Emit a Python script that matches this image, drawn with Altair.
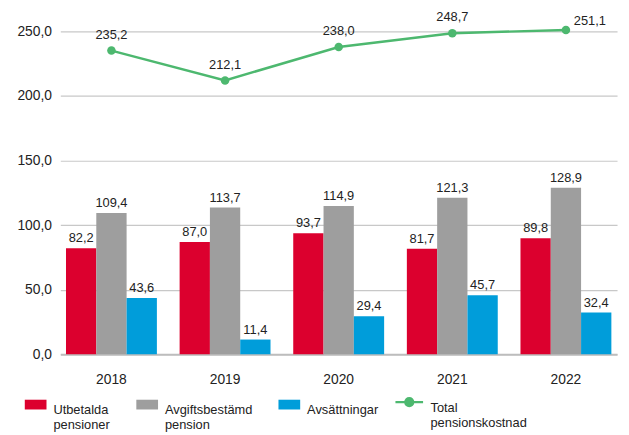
import altair as alt
import pandas as pd

years = ["2018", "2019", "2020", "2021", "2022"]
utbetalda = [82.2, 87.0, 93.7, 81.7, 89.8]
avgiftsbestamd = [109.4, 113.7, 114.9, 121.3, 128.9]
avsattningar = [43.6, 11.4, 29.4, 45.7, 32.4]
total = [235.2, 212.1, 238.0, 248.7, 251.1]

series_names = ["Utbetalda pensioner", "Avgiftsbestämd pension", "Avsättningar"]
series_colors = ["#DC002E", "#9E9E9E", "#009DDA"]
line_name = "Total pensionskostnad"
line_color = "#4DB86F"

rows = []
for name, vals in zip(series_names, [utbetalda, avgiftsbestamd, avsattningar]):
    for y, v in zip(years, vals):
        rows.append({"year": y, "series": name, "value": v})
bars_df = pd.DataFrame(rows)
line_df = pd.DataFrame({"year": years, "value": total, "series": [line_name] * len(years)})

FONT = "Liberation Sans"
fmt = "replace(format(datum.value, '.1f'), '.', ',')"
two_lines = "indexof(datum.label, ' ') > 0 ? split(datum.label, ' ') : [datum.label, ' ']"

x = alt.X("year:N", title=None,
          scale=alt.Scale(paddingInner=0.2, paddingOuter=0.05),
          axis=alt.Axis(labelAngle=0, labelFontSize=14, labelPadding=19, ticks=False,
                        domainColor="#BDBDBD", domainWidth=2, labelColor="#222222"))
y = alt.Y("value:Q", title=None,
          scale=alt.Scale(domain=[0, 250], nice=False),
          axis=alt.Axis(values=[0, 50, 100, 150, 200, 250], labelExpr=fmt, labelFontSize=14,
                        labelPadding=9, ticks=False, domain=False, gridColor="#C8C8C8",
                        gridWidth=1.2, labelColor="#222222"))

bars = alt.Chart(bars_df).mark_bar().encode(
    x=x,
    y=y,
    xOffset=alt.XOffset("series:N", sort=series_names),
    fill=alt.Fill("series:N", sort=series_names,
                  scale=alt.Scale(domain=series_names, range=series_colors),
                  legend=alt.Legend(title=None, orient="none", legendX=-36, legendY=367,
                                    direction="horizontal", columns=3, columnPadding=26,
                                    symbolType="M-1,-0.45H1V0.45H-1Z", symbolSize=484,
                                    symbolStrokeWidth=0, labelFontSize=13, labelOffset=7,
                                    labelLimit=200, labelBaseline="top",
                                    labelExpr=two_lines,
                                    labelColor="#222222")),
)

bar_text = alt.Chart(bars_df).mark_text(baseline="bottom", dy=-3, fontSize=13, font=FONT,
                                         color="#222222").encode(
    x=alt.X("year:N"),
    y=alt.Y("value:Q"),
    xOffset=alt.XOffset("series:N", sort=series_names),
    text=alt.Text("label:N"),
).transform_calculate(label=fmt)

line = alt.Chart(line_df).mark_line(strokeWidth=2.5).encode(
    x=alt.X("year:N"),
    y=alt.Y("value:Q"),
    stroke=alt.Stroke("series:N", scale=alt.Scale(domain=[line_name], range=[line_color]),
                      legend=alt.Legend(title=None, orient="none", legendX=338, legendY=360,
                                        symbolType="M-1,0H-0.28A0.28,0.28 0 1,1 0.28,0A0.28,0.28 0 1,1 -0.28,0M0.28,0H1",
                                        symbolSize=784, symbolStrokeWidth=2.5,
                                        symbolFillColor=line_color, labelFontSize=13,
                                        labelOffset=6, labelLimit=200, labelBaseline="top",
                                        labelExpr=two_lines,
                                        labelColor="#222222")),
)

points = alt.Chart(line_df).mark_point(filled=True, size=75, opacity=1, color=line_color).encode(
    x=alt.X("year:N"),
    y=alt.Y("value:Q"),
)

line_text = alt.Chart(line_df).mark_text(baseline="bottom", dy=-9, fontSize=13, font=FONT,
                                          color="#222222").encode(
    x=alt.X("year:N"),
    y=alt.Y("value:Q"),
    text=alt.Text("label:N"),
).transform_calculate(label=fmt).transform_filter(f"datum.year != '{years[-1]}'")

line_text_last = alt.Chart(line_df).mark_text(align="left", baseline="bottom", dx=8, dy=-2,
                                               fontSize=13, font=FONT, color="#222222").encode(
    x=alt.X("year:N"),
    y=alt.Y("value:Q"),
    text=alt.Text("label:N"),
).transform_calculate(label=fmt).transform_filter(f"datum.year == '{years[-1]}'")

chart = alt.layer(bars, bar_text, line, points, line_text, line_text_last).resolve_scale(
    fill="independent", stroke="independent"
).properties(
    width=564, height=327,
    autosize=alt.AutoSizeParams(type="none"),
    padding={"left": 53, "top": 21, "right": 4, "bottom": 78},
).configure(font=FONT).configure_view(stroke=None)

chart.save("out.html", embed_options={"renderer": "svg", "actions": False})
